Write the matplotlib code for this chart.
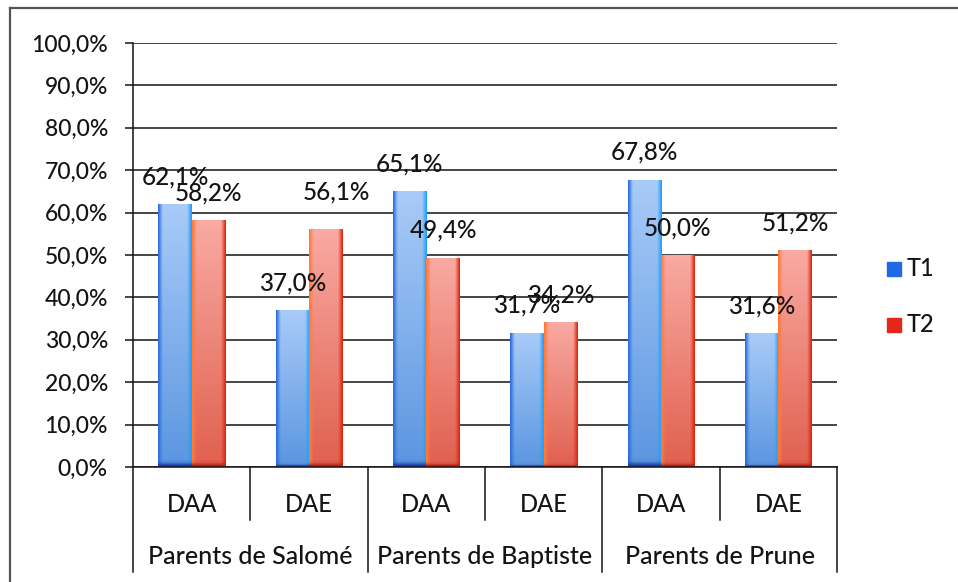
import numpy as np
import matplotlib
matplotlib.use("Agg")
import matplotlib.pyplot as plt
from matplotlib.patches import Rectangle
from matplotlib.lines import Line2D
from matplotlib.ticker import FuncFormatter

# chart data
subcats = ["DAA", "DAE", "DAA", "DAE", "DAA", "DAE"]
groups = ["Parents de Salomé", "Parents de Baptiste", "Parents de Prune"]
series = ["T1", "T2"]
t1 = [62.1, 37.0, 65.1, 31.7, 67.8, 31.6]
t2 = [58.2, 56.1, 49.4, 34.2, 50.0, 51.2]

plt.rcParams["font.family"] = ["Lato", "DejaVu Sans"]
plt.rcParams["font.size"] = 16.5
plt.rcParams["font.weight"] = "medium"

W, H = 958, 582
fig = plt.figure(figsize=(W / 100, H / 100), dpi=100)
ax = fig.add_axes([133 / W, (H - 467) / H, (837 - 133) / W, 424 / H])

ink = "#141414"
x = np.arange(len(subcats))
width = 0.284

bars1 = ax.bar(x - width / 2, t1, width, color="#6ea2ea", edgecolor="none", zorder=3)
bars2 = ax.bar(x + width / 2, t2, width, color="#ec7d70", edgecolor="none", zorder=3)


def to_rgb(h):
    return np.array(matplotlib.colors.to_rgb(h))


def shade(patch, top, bottom, left, right, base):
    # fake the excel glossy gradient on a bar
    n, m = 80, 30
    v = np.linspace(0, 1, n)[:, None, None]
    img = to_rgb(top) * (1 - v) + to_rgb(bottom) * v
    img = np.repeat(img, m, axis=1)
    u = np.linspace(0, 1, m)[None, :, None]
    lw = np.clip(1 - u / 0.13, 0, 1)
    rw = np.clip((u - 0.87) / 0.13, 0, 1)
    img = img * (1 - lw - rw) + to_rgb(left) * lw + to_rgb(right) * rw
    # darker foot of the bar
    foot = np.clip((v - 0.985) / 0.015, 0, 1)
    img = img * (1 - foot) + to_rgb(base) * foot
    bb = patch.get_bbox()
    im = ax.imshow(img, extent=[bb.x0, bb.x1, bb.y0, bb.y1], aspect="auto",
                   origin="upper", interpolation="bilinear", zorder=3.5)
    im.set_clip_path(patch)


for p in bars1:
    shade(p, "#a9cbf8", "#5b96e0", "#2b6fde", "#1ea2ff", "#1a3fb0")
for p in bars2:
    shade(p, "#f9aaa2", "#e0604f", "#ff7a3a", "#e0280e", "#c02010")

ax.set_xlim(-0.5, len(subcats) - 0.5)
ax.set_ylim(0, 100)
ax.set_yticks(np.arange(0, 101, 10))
ax.yaxis.set_major_formatter(FuncFormatter(lambda v, _: f"{v:.1f}%".replace(".", ",")))
ax.tick_params(axis="y", length=6, width=1.1, color=ink, pad=12, labelcolor=ink)
ax.set_xticks([])
ax.yaxis.grid(True, color=ink, lw=1.1)
ax.set_axisbelow(True)
for s in ["top", "right"]:
    ax.spines[s].set_visible(False)
for s in ["left", "bottom"]:
    ax.spines[s].set_color(ink)
    ax.spines[s].set_linewidth(1.1)
    ax.spines[s].set_zorder(5)

# value labels above bars
nudge = {(1, 1): (8, 7)}
for si, vals in enumerate([t1, t2]):
    for i, v in enumerate(vals):
        dx, dy = nudge.get((si, i), (0, 0))
        xpos = x[i] + (si - 0.5) * width
        ax.annotate(f"{v:.1f}%".replace(".", ","), (xpos, v), xytext=(dx, 19.5 + dy),
                    textcoords="offset points", ha="center", va="center",
                    color=ink, fontsize=17.5, zorder=6)

# two level category axis
tr = ax.get_xaxis_transform()
for k, b in enumerate(np.arange(len(subcats) + 1) - 0.5):
    low = -0.248 if k % 2 == 0 else -0.125
    ax.add_line(Line2D([b, b], [0, low], transform=tr, color=ink, lw=1.1, clip_on=False))
for i, lab in enumerate(subcats):
    ax.text(x[i], -0.0896, lab, transform=tr, ha="center", va="center", color=ink,
            fontsize=17)
for g, lab in enumerate(groups):
    ax.text(2 * g + 0.5, -0.212, lab, transform=tr, ha="center", va="center", color=ink,
            fontsize=18)

# legend
for lab, col, yy in [(series[0], "#1f68e6", 269), (series[1], "#e3281a", 325)]:
    fig.patches.append(Rectangle(((887) / W, (H - yy - 7) / H), 14 / W, 14 / H,
                                 transform=fig.transFigure, color=col))
    fig.text(907 / W, (H - yy) / H, lab, ha="left", va="center", color=ink, fontsize=17)

# outer frame (left and top only)
fig.add_artist(Line2D([10 / W, 10 / W], [0, (H - 8) / H], color="#555555", lw=1.6))
fig.add_artist(Line2D([10 / W, 1], [(H - 8) / H, (H - 8) / H], color="#555555", lw=1.6))

fig.savefig("out.png", dpi=100)
